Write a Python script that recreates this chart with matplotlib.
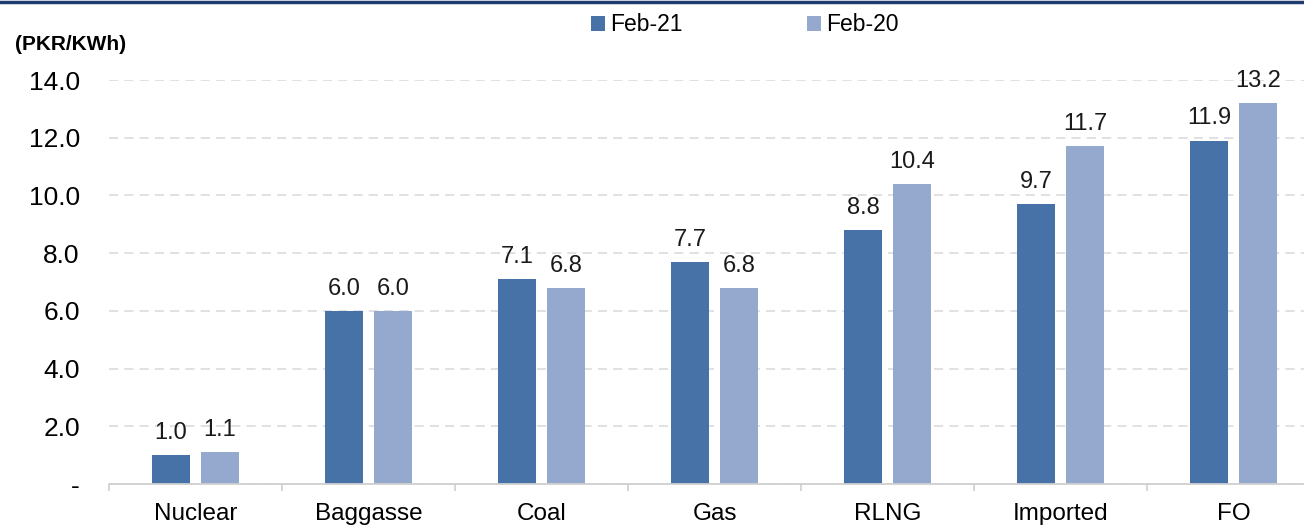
import matplotlib.pyplot as plt
import numpy as np
from matplotlib.lines import Line2D

plt.rcParams['font.family'] = ['Liberation Sans', 'DejaVu Sans']

# data
categories = ['Nuclear', 'Baggasse', 'Coal', 'Gas', 'RLNG', 'Imported', 'FO']
feb21 = [1.0, 6.0, 7.1, 7.7, 8.8, 9.7, 11.9]
feb20 = [1.1, 6.0, 6.8, 6.8, 10.4, 11.7, 13.2]
series_names = ['Feb-21', 'Feb-20']
yticks = [0, 2, 4, 6, 8, 10, 12, 14]
ytick_labels = ['-', '2.0', '4.0', '6.0', '8.0', '10.0', '12.0', '14.0']

dark = '#4672A7'
light = '#95A9CF'

fig = plt.figure(figsize=(13.04, 5.29), dpi=100)
# axis runs a bit past the right edge, like the original
ax = fig.add_axes([109 / 1304, 45 / 529, 1211 / 1304, 404 / 529])

x = np.arange(len(categories))
w = 0.222
off = 0.142
b1 = ax.bar(x - off, feb21, w, color=dark, label=series_names[0], zorder=3)
b2 = ax.bar(x + off, feb20, w, color=light, label=series_names[1], zorder=3)

for bars, vals in [(b1, feb21), (b2, feb20)]:
    for r, v in zip(bars, vals):
        ax.annotate(f'{v:.1f}', (r.get_x() + r.get_width() / 2, v),
                    xytext=(0, 8), textcoords='offset points',
                    ha='center', va='bottom', fontsize=17, color='#1a1a1a',
                    annotation_clip=False)

ax.set_xlim(-0.5, len(categories) - 0.5)
ax.set_ylim(0, 14)
ax.set_yticks(yticks)
ax.set_yticklabels(ytick_labels)
ax.set_xticks(x)
ax.set_xticklabels(categories)
ax.set_xticks(np.arange(-0.5, len(categories)), minor=True)
ax.tick_params(axis='x', which='major', length=0, pad=14, labelsize=17.5)
ax.tick_params(axis='x', which='minor', length=5, color='#D0D0D0', width=1.2)
ax.tick_params(axis='y', length=0, pad=21, labelsize=19)

ax.yaxis.grid(True, color='#D9D9D9', linestyle=(0, (6, 4)), linewidth=1.1, zorder=0)
for s in ['left', 'right', 'top']:
    ax.spines[s].set_visible(False)
ax.spines['bottom'].set_color('#D0D0D0')
ax.spines['bottom'].set_linewidth(1.3)
ax.spines['bottom'].set_zorder(4)

fig.text(15 / 1304, 1 - 45 / 529, '(PKR/KWh)', fontsize=15, fontweight='bold',
         va='center', ha='left')

fig.legend(loc='center', bbox_to_anchor=(745 / 1304, 1 - 25 / 529), ncol=2,
           frameon=False, fontsize=16.5, handlelength=0.6, handleheight=0.6,
           handletextpad=0.25, columnspacing=5.4)

fig.add_artist(Line2D([0, 1], [1 - 1.5 / 529, 1 - 1.5 / 529], color='#1F3A6E',
                      linewidth=2.5, transform=fig.transFigure))

fig.savefig('out.png', dpi=100)
